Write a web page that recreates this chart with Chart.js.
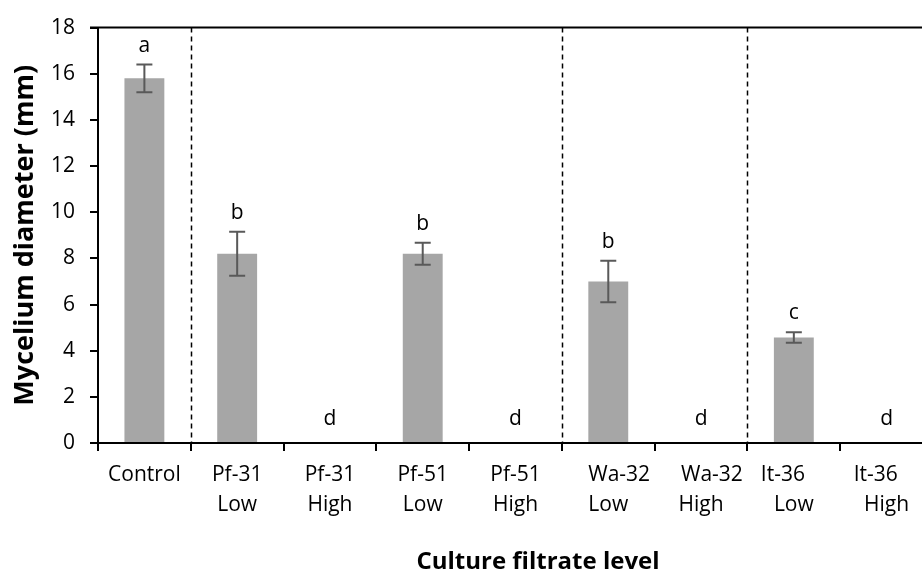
<!DOCTYPE html>
<html>
<head>
<meta charset="utf-8">
<script src="https://cdn.jsdelivr.net/npm/chart.js@4"></script>
<style>
  html, body { margin: 0; padding: 0; overflow: hidden; background: #fff; }
  canvas { display: block; }
</style>
</head>
<body>
<canvas id="chart" width="940" height="574"></canvas>
<script>
"use strict";

const categories = [
    "Control",
    ["Pf-31", "Low"], ["Pf-31", "High"],
    ["Pf-51", "Low"], ["Pf-51", "High"],
    ["    Wa-32", "Low"], ["    Wa-32", "High"],
    ["It-36    ", "Low"], ["It-36    ", "High"]
];
const diameters = [15.8, 8.2, 0, 8.2, 0, 7.0, 0, 4.57, 0];
const errors = [0.6, 0.95, 0, 0.48, 0, 0.9, 0, 0.23, 0];
const letters = ["a", "b", "d", "b", "d", "b", "d", "c", "d"];
const groupBreaks = [0, 4, 6]; // dashed separators after these indexes
const yTicks = [0, 2, 4, 6, 8, 10, 12, 14, 16, 18];
const xTitle = "Culture filtrate level";
const yTitle = "Mycelium diameter (mm)";

const FONT = "'Open Sans', sans-serif";

const decorations = {
    id: "decorations",
    afterDatasetsDraw(chart) {
        const { ctx, chartArea, scales: { x, y } } = chart;
        ctx.save();

        // top frame line
        ctx.strokeStyle = "#000";
        ctx.lineWidth = 2;
        ctx.beginPath();
        ctx.moveTo(chartArea.left - 8, chartArea.top);
        ctx.lineTo(chartArea.right, chartArea.top);
        ctx.stroke();

        // dashed group separators
        ctx.lineWidth = 1.5;
        ctx.setLineDash([5, 4]);
        for (const i of groupBreaks) {
            const px = Math.round((x.getPixelForValue(i) + x.getPixelForValue(i + 1)) / 2) + 0.5;
            ctx.beginPath();
            ctx.moveTo(px, chartArea.top);
            ctx.lineTo(px, chartArea.bottom);
            ctx.stroke();
        }
        ctx.setLineDash([]);

        // error bars
        ctx.strokeStyle = "#595959";
        ctx.lineWidth = 2;
        diameters.forEach((v, i) => {
            const e = errors[i];
            if (!e) return;
            const cx = x.getPixelForValue(i);
            const yTop = y.getPixelForValue(v + e);
            const yBot = y.getPixelForValue(v - e);
            ctx.beginPath();
            ctx.moveTo(cx, yTop);
            ctx.lineTo(cx, yBot);
            ctx.moveTo(cx - 8, yTop);
            ctx.lineTo(cx + 8, yTop);
            ctx.moveTo(cx - 8, yBot);
            ctx.lineTo(cx + 8, yBot);
            ctx.stroke();
        });

        // significance letters
        ctx.fillStyle = "#000";
        ctx.font = "21px " + FONT;
        ctx.textAlign = "center";
        ctx.textBaseline = "alphabetic";
        letters.forEach((t, i) => {
            const v = diameters[i] + errors[i];
            const gap = diameters[i] === 0 ? 18 : 13;
            ctx.fillText(t, x.getPixelForValue(i), y.getPixelForValue(v) - gap);
        });

        // axis titles
        ctx.font = "bold 24px " + FONT;
        ctx.fillText(xTitle, 538, 569);
        ctx.font = "bold 27px " + FONT;
        ctx.translate(33, (chartArea.top + chartArea.bottom) / 2);
        ctx.rotate(-Math.PI / 2);
        ctx.fillText(yTitle, 0, 0);

        ctx.restore();
    }
};

new Chart(document.getElementById("chart").getContext("2d"), {
    type: "bar",
    data: {
        labels: categories,
        datasets: [{
            data: diameters,
            backgroundColor: "#a6a6a6",
            borderWidth: 0,
            barPercentage: 0.43,
            categoryPercentage: 1
        }]
    },
    options: {
        responsive: false,
        animation: false,
        devicePixelRatio: 1,
        layout: { padding: { left: 0, top: 20, right: 7, bottom: 0 } },
        plugins: {
            legend: { display: false },
            tooltip: { enabled: false }
        },
        scales: {
            x: {
                grid: {
                    offset: true,
                    drawOnChartArea: false,
                    drawTicks: true,
                    tickLength: 8,
                    color: "#000",
                    lineWidth: 2
                },
                border: { color: "#000", width: 2 },
                ticks: {
                    color: "#000",
                    padding: 9,
                    maxRotation: 0,
                    autoSkip: false,
                    font: { family: FONT, size: 21, lineHeight: 1.43 }
                },
                afterFit(scale) { scale.height = 131; }
            },
            y: {
                min: 0,
                max: 18,
                afterBuildTicks(scale) {
                    scale.ticks = yTicks.map(v => ({ value: v }));
                },
                grid: {
                    drawOnChartArea: false,
                    drawTicks: true,
                    tickLength: 8,
                    color: "#000",
                    lineWidth: 2
                },
                border: { color: "#000", width: 2 },
                ticks: {
                    color: "#000",
                    padding: 15,
                    font: { family: FONT, size: 21 }
                },
                afterFit(scale) { scale.width = 98; }
            }
        }
    },
    plugins: [decorations]
});
</script>
</body>
</html>
